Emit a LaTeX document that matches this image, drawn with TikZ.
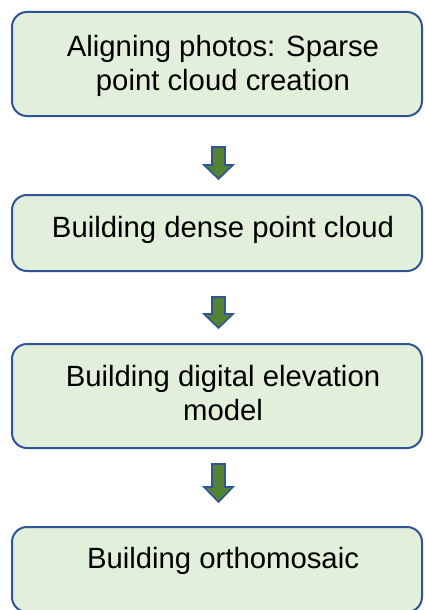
\documentclass[tikz,border=0pt]{standalone}
\usepackage{fontspec}
\setmainfont{Liberation Sans}
\definecolor{boxborder}{RGB}{47,85,151}
\definecolor{boxfill}{RGB}{226,239,218}
\definecolor{arrowfill}{RGB}{84,130,53}
\begin{document}
\begin{tikzpicture}[x=1pt,y=-1pt,
  stagebox/.style={rectangle,rounded corners=15pt,draw=boxborder,fill=boxfill,
    line width=2pt,minimum width=410pt,inner sep=0pt},
  stagetext/.style={align=center,inner sep=0pt,text=black,
    font=\fontsize{29.3}{34}\selectfont},
  blockarrow/.style={draw=boxborder,fill=arrowfill,line width=1.6pt,line join=miter}]
\path[use as bounding box,clip] (0,0) rectangle (425,610);
% boxes
\node[stagebox,minimum height=104pt] (b1) at (217,64) {};
\node[stagebox,minimum height=76pt]  (b2) at (217,233) {};
\node[stagebox,minimum height=104pt] (b3) at (217,396) {};
\node[stagebox,minimum height=85pt]  (b4) at (217,569.5) {};
% texts
\node[stagetext] (t1) at (223,66) {Aligning photos: Sparse\\point cloud creation};
\node[stagetext,anchor=base] (t2) at (223,237) {Building dense point cloud};
\node[stagetext] (t3) at (223,393) {Building digital elevation\\model};
\node[stagetext,anchor=base] (t4) at (223,568) {Building orthomosaic};
% block arrows
\coordinate (a1) at (218.5,147);
\coordinate (a2) at (218.5,297);
\coordinate (a3) at (218.5,464);
\draw[blockarrow] (a1) ++(-6.5,0) -- ++(13,0) -- ++(0,18) -- ++(8,0) -- ++(-14.5,14) -- ++(-14.5,-14) -- ++(8,0) -- cycle;
\draw[blockarrow] (a2) ++(-6.5,0) -- ++(13,0) -- ++(0,17) -- ++(8,0) -- ++(-14.5,14) -- ++(-14.5,-14) -- ++(8,0) -- cycle;
\draw[blockarrow] (a3) ++(-6.5,0) -- ++(13,0) -- ++(0,23) -- ++(8,0) -- ++(-14.5,15) -- ++(-14.5,-15) -- ++(8,0) -- cycle;
\end{tikzpicture}
\end{document}
